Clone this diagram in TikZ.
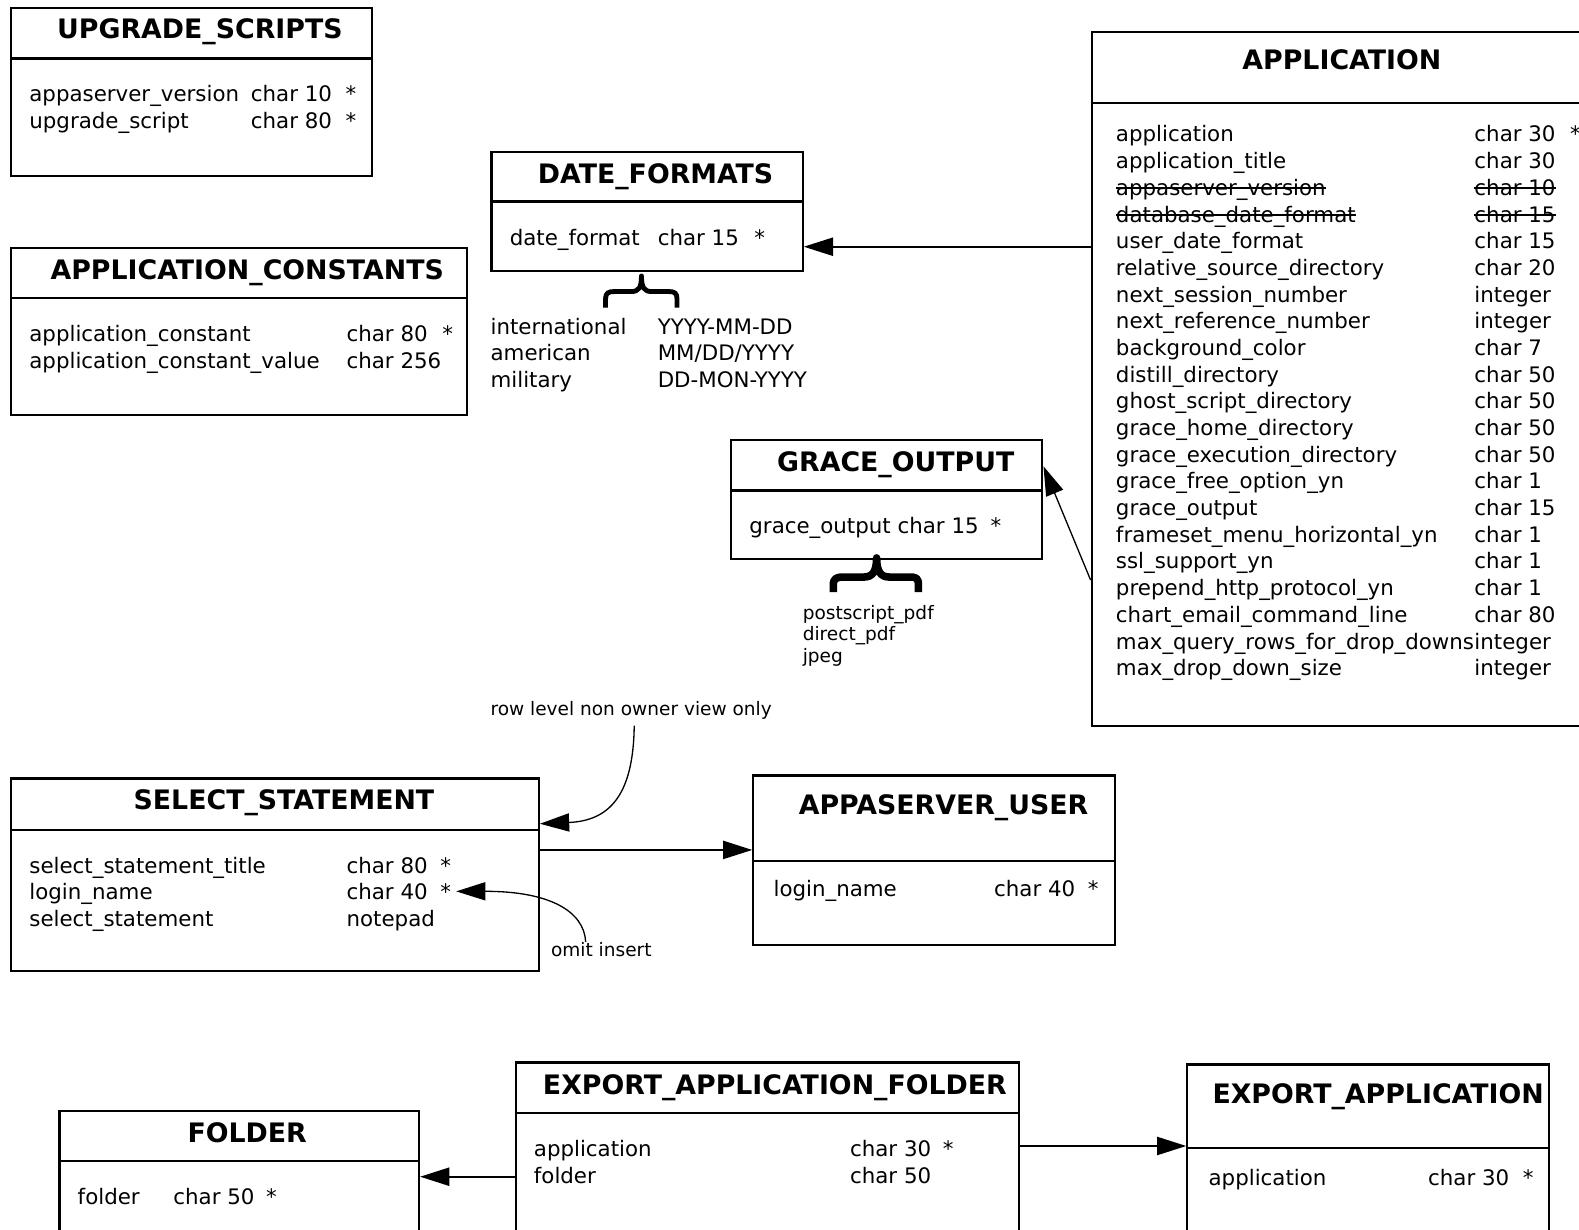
\documentclass[tikz,border=0pt]{standalone}
\usepackage{fontspec}
\setmainfont{DejaVu Sans}
\usetikzlibrary{arrows.meta}
\tikzset{
  box/.style={draw, line width=2.2pt, inner sep=0pt, anchor=north west},
  ttl/.style={font=\fontsize{26.6}{30}\selectfont\bfseries, anchor=base, inner sep=0pt},
  fld/.style={font=\fontsize{21.2}{25}\selectfont, anchor=base west, inner sep=0pt},
  note/.style={font=\fontsize{18.4}{22}\selectfont, anchor=base west, inner sep=0pt},
  divl/.style={line width=2.2pt},
  conn/.style={line width=2pt, -{Triangle[length=29pt,width=18pt]}},
  thinarr/.style={line width=1.3pt, -{Triangle[length=29pt,width=18pt]}},
  strk/.style={line width=1.8pt},
  bracea/.style={line width=4.8pt, line join=round},
  braceb/.style={line width=7.5pt, line join=round},
}
\begin{document}
\begin{tikzpicture}[x=1pt,y=-1pt]
\clip (0,0) rectangle (1568,1220.5);

% ---------- UPGRADE_SCRIPTS
\node[box, minimum width=358pt, minimum height=167pt] (ups) at (10,7) {};
\draw[divl] (ups.west |- 0,58) -- (ups.east |- 0,58);
\node[ttl] (upst) at (198.5,38.5) {UPGRADE\_SCRIPTS};
\node[fld] (up1) at (29,101) {appaserver\_version};
\node[fld] (up1t) at (249,101) {char 10};
\node[fld] (up1s) at (343,101) {*};
\node[fld] (up2) at (29,128) {upgrade\_script};
\node[fld] (up2t) at (249,128) {char 80};
\node[fld] (up2s) at (343,128) {*};

% ---------- APPLICATION_CONSTANTS
\node[box, minimum width=453pt, minimum height=166pt] (apc) at (10,245) {};
\draw[divl] (apc.west |- 0,296) -- (apc.east |- 0,296);
\node[ttl] (apct) at (245.5,277.5) {APPLICATION\_CONSTANTS};
\node[fld] (ac1) at (29,339) {application\_constant};
\node[fld] (ac1t) at (344,339) {char 80};
\node[fld] (ac1s) at (439,339) {*};
\node[fld] (ac2) at (29,366) {application\_constant\_value};
\node[fld] (ac2t) at (344,366) {char 256};

% ---------- DATE_FORMATS
\node[box, minimum width=309pt, minimum height=118pt] (dat) at (487,150) {};
\draw[divl] (dat.west |- 0,200) -- (dat.east |- 0,200);
\node[ttl] (datt) at (651,182.5) {DATE\_FORMATS};
\node[fld] (df1) at (506,244) {date\_format};
\node[fld] (df1t) at (653,244) {char 15};
\node[fld] (df1s) at (749,244) {*};
\draw[bracea] (601.3,305.6) -- (601.3,297) .. controls (601.3,291) and (604,289.5) .. (610,289.5) -- (627,289.5) .. controls (634,289.5) and (637,286) .. (637,274) .. controls (637,286) and (640,289.5) .. (647,289.5) -- (664,289.5) .. controls (670,289.5) and (672.3,291) .. (672.3,297) -- (672.3,305.6);
\node[fld] (dv1) at (487,332) {international};
\node[fld] (dv2) at (487,358) {american};
\node[fld] (dv3) at (487,385) {military};
\node[fld] (dw1) at (653,332) {YYYY-MM-DD};
\node[fld] (dw2) at (653,358) {MM/DD/YYYY};
\node[fld] (dw3) at (653,385) {DD-MON-YYYY};

% ---------- GRACE_OUTPUT
\node[box, minimum width=309pt, minimum height=118pt] (gra) at (725,436) {};
\draw[divl] (gra.west |- 0,487) -- (gra.east |- 0,487);
\node[ttl] (grat) at (889.5,468.5) {GRACE\_OUTPUT};
\node[fld] (go1) at (744,530) {grace\_output char 15};
\node[fld] (go1s) at (983.5,530) {*};
\draw[braceb] (827.5,588) -- (827.5,581) .. controls (827.5,574) and (831,573) .. (838,573) -- (858,573) .. controls (866,573) and (870.5,568) .. (870.5,554) .. controls (870.5,568) and (875,573) .. (883,573) -- (903,573) .. controls (910,573) and (912,574) .. (912,581) -- (912,588);
\node[note] (gv1) at (797,615.5) {postscript\_pdf};
\node[note] (gv2) at (797,636.5) {direct\_pdf};
\node[note] (gv3) at (797,657.5) {jpeg};

% ---------- APPLICATION
\node[box, minimum width=517pt, minimum height=689pt] (app) at (1083,31) {};
\draw[divl] (app.west |- 0,102) -- (app.east |- 0,102);
\node[ttl] (appt) at (1332.5,69.5) {APPLICATION};
\foreach \a/\b [count=\i from 0] in {
  application/char 30,
  application\_title/char 30,
  appaserver\_version/char 10,
  database\_date\_format/char 15,
  user\_date\_format/char 15,
  relative\_source\_directory/char 20,
  next\_session\_number/integer,
  next\_reference\_number/integer,
  background\_color/char 7,
  distill\_directory/char 50,
  ghost\_script\_directory/char 50,
  grace\_home\_directory/char 50,
  grace\_execution\_directory/char 50,
  grace\_free\_option\_yn/char 1,
  grace\_output/char 15,
  frameset\_menu\_horizontal\_yn/char 1,
  ssl\_support\_yn/char 1,
  prepend\_http\_protocol\_yn/char 1,
  chart\_email\_command\_line/char 80,
  max\_query\_rows\_for\_drop\_downs/integer,
  max\_drop\_down\_size/integer}
{
  \node[fld] (an\i) at ({1108},{141+26.5*\i}) {\a};
  \node[fld] (at\i) at ({1464},{141+26.5*\i}) {\b};
}
\node[fld] (as0) at (1559,141) {*};
\foreach \k in {2,3}{
  \draw[strk] ([yshift=7pt]an\k.base west) -- ([yshift=7pt]an\k.base east);
  \draw[strk] ([yshift=7pt]at\k.base west) -- ([yshift=7pt]at\k.base east);
}

% ---------- SELECT_STATEMENT
\node[box, minimum width=524pt, minimum height=191pt] (sel) at (10,772) {};
\draw[divl] (sel.west |- 0,824) -- (sel.east |- 0,824);
\node[ttl] (selt) at (282,803.5) {SELECT\_STATEMENT};
\node[fld] (ss1) at (29,867) {select\_statement\_title};
\node[fld] (ss1t) at (344,867) {char 80};
\node[fld] (ss1s) at (437,867) {*};
\node[fld] (ss2) at (29,893) {login\_name};
\node[fld] (ss2t) at (344,893) {char 40};
\node[fld] (ss2s) at (437,893) {*};
\node[fld] (ss3) at (29,920) {select\_statement};
\node[fld] (ss3t) at (344,920) {notepad};

% ---------- APPASERVER_USER
\node[box, minimum width=359pt, minimum height=168pt] (usr) at (747,769) {};
\draw[divl] (usr.west |- 0,855) -- (usr.east |- 0,855);
\node[ttl] (usrt) at (937,808.5) {APPASERVER\_USER};
\node[fld] (us1) at (768,890) {login\_name};
\node[fld] (us1t) at (987,890) {char 40};
\node[fld] (us1s) at (1080,890) {*};

% ---------- FOLDER
\node[box, minimum width=357pt, minimum height=158pt] (fol) at (58,1102) {};
\draw[divl] (fol.west |- 0,1153) -- (fol.east |- 0,1153);
\node[ttl] (folt) at (245.5,1134.5) {FOLDER};
\node[fld] (fo1) at (77,1196) {folder};
\node[fld] (fo1t) at (172,1196) {char 50};
\node[fld] (fo1s) at (264,1196) {*};

% ---------- EXPORT_APPLICATION_FOLDER
\node[box, minimum width=500pt, minimum height=206pt] (eaf) at (511,1054) {};
\draw[divl] (eaf.west |- 0,1105) -- (eaf.east |- 0,1105);
\node[ttl] (eaft) at (769.5,1086.5) {EXPORT\_APPLICATION\_FOLDER};
\node[fld] (ef1) at (530,1148) {application};
\node[fld] (ef1t) at (844,1148) {char 30};
\node[fld] (ef1s) at (936,1148) {*};
\node[fld] (ef2) at (530,1175) {folder};
\node[fld] (ef2t) at (844,1175) {char 50};

% ---------- EXPORT_APPLICATION
\node[box, minimum width=359pt, minimum height=204pt] (ea) at (1178,1056) {};
\draw[divl] (ea.west |- 0,1140) -- (ea.east |- 0,1140);
\node[ttl] (eat) at (1368.5,1095.5) {EXPORT\_APPLICATION};
\node[fld] (ea1) at (1200,1177) {application};
\node[fld] (ea1t) at (1418,1177) {char 30};
\node[fld] (ea1s) at (1512,1177) {*};

% ---------- annotations
\node[note] (rl) at (487,710.5) {row level non owner view only};
\node[note] (oi) at (547,949.5) {omit insert};

% ---------- connectors
\draw[conn] (app.west |- 0,245) -- (dat.east |- 0,245);
\draw[thinarr] (app.west |- 0,576) -- (gra.east |- 0,463);
\draw[conn] (sel.east |- 0,844) -- (usr.west |- 0,844);
\draw[conn] (eaf.west |- 0,1168.5) -- (fol.east |- 0,1168.5);
\draw[conn] (eaf.east |- 0,1138) -- (ea.west |- 0,1138);
\draw[thinarr] (rl.south -| 629.8,0) ++(0,6) .. controls (629,790) and (605,815) .. (sel.east |- 0,818);
\draw[thinarr] (oi.north -| 581.6,0) .. controls (580,905) and (546,885) .. ([xshift=5pt]ss2s.east);
\end{tikzpicture}
\end{document}
